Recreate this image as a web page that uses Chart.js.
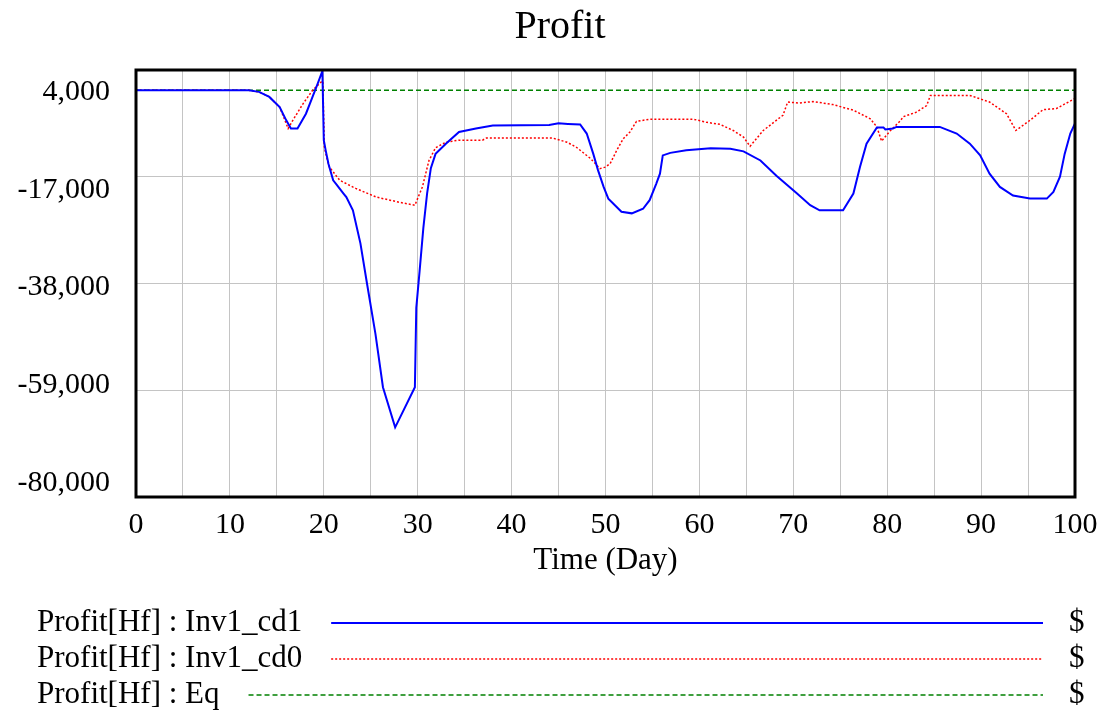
<!DOCTYPE html>
<html>
<head>
<meta charset="utf-8">
<title>Profit</title>
<script src="https://cdn.jsdelivr.net/npm/chart.js@4.4.1/dist/chart.umd.min.js"></script>
<style>
  body { margin: 0; background: #fff; }
  #chart_profit { display: block; }
</style>
</head>
<body>
<canvas id="chart_profit" width="1100" height="710"></canvas>
<script>
// Profit[Hf] : Inv1_cd1 (blue, solid)
const cd1Time = [0, 12, 13.1, 14.2, 15.3, 16.0, 16.5, 17.2, 18.1, 18.8, 19.35, 19.85, 20.0, 20.2, 20.5, 21.0,
    21.3, 22.1, 22.4, 23.1, 23.9, 24.6, 25.5, 26.3, 27.6, 29.7, 29.85, 30.2, 30.6, 31.0, 31.4, 31.9,
    33.0, 34.4, 36.2, 38.0, 44, 45, 46, 47.3, 48.0, 48.7, 49.2, 49.8, 50.3, 51.7, 52.8, 54.0,
    54.7, 55.4, 55.8, 56.1, 56.9, 58.6, 61.2, 63.3, 64.7, 66.5, 68.2, 70.4, 71.8, 72.8, 75.3,
    76.4, 77.1, 77.8, 78.9, 79.6, 79.8, 80.6, 81.0, 85.6, 87.4, 88.8, 89.9, 90.9, 92.0, 93.4,
    95.2, 97.0, 97.7, 98.4, 98.9, 99.5, 100];
const cd1Profit = [0, 0, -300, -1300, -3300, -5900, -7500, -7500, -4600, -1300, 1300, 3800, -9800, -11800, -14500, -17700,
    -18400, -20300, -21000, -23600, -30100, -38000, -47900, -58400, -66300, -58400, -42800, -35600, -27100, -20300, -15300, -12500,
    -10500, -8200, -7500, -6900, -6800, -6500, -6600, -6700, -8500, -12500, -15700, -19000, -21300, -23900, -24200, -23300,
    -21600, -18400, -16400, -12800, -12300, -11800, -11400, -11500, -12000, -13800, -16800, -20300, -22600, -23600, -23600,
    -20300, -15100, -10500, -7300, -7300, -7700, -7500, -7200, -7200, -8500, -10500, -12800, -16400, -19000, -20700,
    -21300, -21300, -20000, -17000, -12500, -8500, -6500];

// Profit[Hf] : Inv1_cd0 (red, dotted)
const cd0Time = [0, 12, 13.1, 14.2, 15.3, 16.2, 16.7, 17.8, 18.8, 19.7, 19.9, 20.05, 20.3, 20.6, 21.7, 23.4,
    25.6, 28.0, 29.7, 30.5, 31.2, 31.9, 33.0, 34.4, 36.9, 37.3, 44.4, 45.9, 46.9, 48.4, 49.4, 50.0,
    50.5, 51.2, 51.9, 52.6, 53.3, 54.7, 59.4, 60.8, 62.2, 63.6, 64.7, 65.4, 66.8, 68.9, 69.4,
    70.7, 72.1, 74.2, 76.4, 78.2, 78.9, 79.4, 80.3, 81.4, 81.7, 83.1, 84.2, 84.6, 88.8, 90.9,
    92.7, 93.7, 95.2, 96.6, 98.0, 99.8, 100];
const cd0Profit = [0, 0, -300, -1300, -3300, -7500, -5900, -2600, 0, 1600, 1800, -11000, -13200, -15100, -17700, -19300,
    -21000, -22000, -22600, -19000, -13800, -11300, -10200, -9800, -9800, -9400, -9400, -10200, -11200, -13400, -15400, -15100,
    -14400, -11800, -9500, -8200, -6100, -5700, -5700, -6300, -6700, -7900, -9200, -11000, -7900, -4900, -2300,
    -2500, -2200, -2800, -3900, -5600, -7200, -10000, -8000, -6000, -5200, -4300, -3000, -1000, -1000, -2300,
    -4600, -7900, -5900, -3800, -3600, -1800, -1600];

// Profit[Hf] : Eq (green, dashed)
const eqTime = [0, 100];
const eqProfit = [0, 0];

const seriesNames = ["Profit[Hf] : Inv1_cd1", "Profit[Hf] : Inv1_cd0", "Profit[Hf] : Eq"];
const unitLabel = "$";
const titleText = "Profit";
const yTicks = [4000, -17000, -38000, -59000, -80000];

const FONT = "'Liberation Serif', 'Times New Roman', serif";

function toPoints(xs, ys) {
    return xs.map((x, i) => ({ x: x, y: ys[i] }));
}

// title, a little right of the page centre
const titleDraw = {
    id: "titleDraw",
    afterDraw(chart) {
        const ctx = chart.ctx;
        ctx.save();
        ctx.font = "40px " + FONT;
        ctx.fillStyle = "#000";
        ctx.textAlign = "center";
        ctx.textBaseline = "middle";
        ctx.fillText(titleText, 560, 27);
        ctx.restore();
    },
};

// black frame round the plot area
const frame = {
    id: "frame",
    afterDatasetsDraw(chart) {
        const a = chart.chartArea;
        const ctx = chart.ctx;
        ctx.save();
        ctx.strokeStyle = "#000";
        ctx.lineWidth = 3;
        ctx.strokeRect(a.left, a.top, a.right - a.left, a.bottom - a.top);
        ctx.restore();
    },
};

// y labels: first and last pulled inside the frame, the rest spread between
const yLabels = {
    id: "yLabels",
    afterDraw(chart) {
        const s = chart.scales.y;
        const ctx = chart.ctx;
        ctx.save();
        ctx.font = "30px " + FONT;
        ctx.fillStyle = "#000";
        ctx.textAlign = "right";
        ctx.textBaseline = "middle";
        const n = yTicks.length - 1;
        yTicks.forEach((v, i) => {
            const off = 22 - 36.3 * (i / n);
            ctx.fillText(v.toLocaleString("en-US"), s.left + 110, s.getPixelForValue(v) + off);
        });
        ctx.restore();
    },
};

// legend rows under the chart: name, line sample, unit
const rowLegend = {
    id: "rowLegend",
    afterDraw(chart) {
        const ctx = chart.ctx;
        ctx.save();
        ctx.font = "31px " + FONT;
        ctx.textBaseline = "middle";
        chart.data.datasets.forEach((ds, i) => {
            const y = 623 + i * 36;
            ctx.fillStyle = "#000";
            ctx.textAlign = "left";
            ctx.fillText(ds.label, 37, y);
            const x0 = 37 + ctx.measureText(ds.label).width + 29;
            ctx.beginPath();
            ctx.strokeStyle = ds.borderColor;
            ctx.lineWidth = ds.borderWidth;
            ctx.setLineDash(ds.borderDash || []);
            ctx.moveTo(x0, y);
            ctx.lineTo(1043, y);
            ctx.stroke();
            ctx.setLineDash([]);
            ctx.fillText(unitLabel, 1069, y);
        });
        ctx.restore();
    },
};

const data = {
    datasets: [
        {
            label: seriesNames[0],
            data: toPoints(cd1Time, cd1Profit),
            borderColor: "#0000ff",
            borderWidth: 2,
        },
        {
            label: seriesNames[1],
            data: toPoints(cd0Time, cd0Profit),
            borderColor: "#ff0000",
            borderWidth: 1.5,
            borderDash: [2, 2],
        },
        {
            label: seriesNames[2],
            data: toPoints(eqTime, eqProfit),
            borderColor: "#008000",
            borderWidth: 1.5,
            borderDash: [5, 3],
        },
    ],
};

const config = {
    type: "line",
    data: data,
    options: {
        responsive: false,
        animation: false,
        events: [],
        elements: {
            point: { radius: 0 },
            line: { tension: 0 },
        },
        layout: {
            padding: { left: 0, right: 25, top: 70, bottom: 131 },
        },
        plugins: {
            legend: { display: false },
            tooltip: { enabled: false },
            title: { display: false },
        },
        scales: {
            x: {
                type: "linear",
                min: 0,
                max: 100,
                border: { display: false },
                grid: { color: "#c4c4c4", lineWidth: 1, drawTicks: false },
                ticks: {
                    stepSize: 5,
                    autoSkip: false,
                    maxRotation: 0,
                    padding: 10,
                    color: "#000",
                    font: { family: FONT, size: 30 },
                    callback: (v) => (v % 10 === 0 ? v : ""),
                },
                title: {
                    display: true,
                    text: "Time (Day)",
                    color: "#000",
                    font: { family: FONT, size: 31 },
                    padding: { top: 0, bottom: 0 },
                },
                afterFit: (scale) => {
                    scale.height = 82;
                    scale.paddingLeft = 0;
                    scale.paddingRight = 0;
                },
            },
            y: {
                type: "linear",
                min: -80000,
                max: 4000,
                border: { display: false },
                grid: { color: "#c4c4c4", lineWidth: 1, drawTicks: false },
                afterBuildTicks: (scale) => {
                    scale.ticks = yTicks.map((v) => ({ value: v }));
                },
                afterFit: (scale) => {
                    scale.width = 136;
                    scale.paddingTop = 0;
                    scale.paddingBottom = 0;
                },
                ticks: { display: false },
            },
        },
    },
    plugins: [titleDraw, frame, yLabels, rowLegend],
};

const ctxProfit = document.getElementById("chart_profit");
const profitChart = new Chart(ctxProfit, config);
</script>
</body>
</html>
